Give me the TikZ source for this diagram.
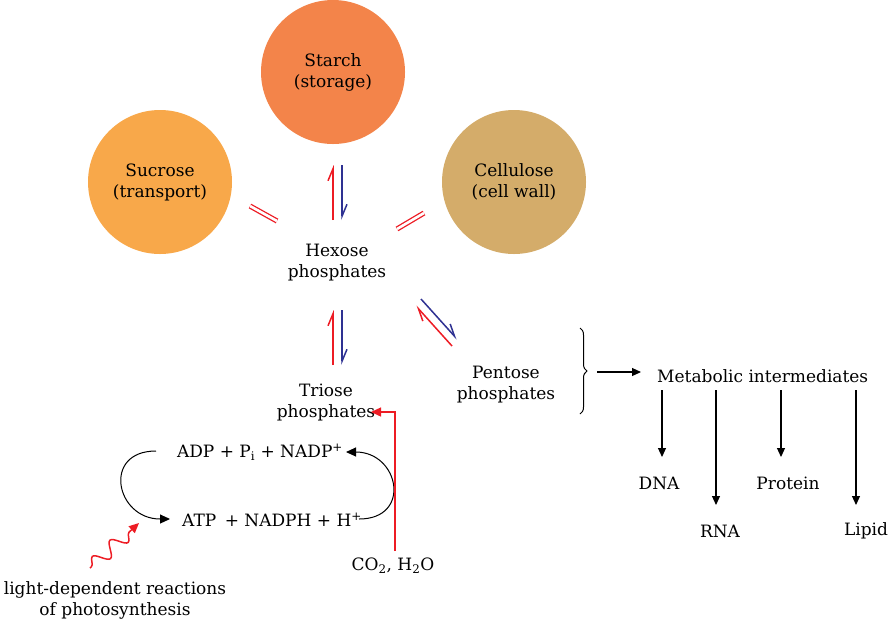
\documentclass[tikz,border=0pt]{standalone}
\usepackage{fontspec}
\setmainfont{DejaVu Serif}
\usetikzlibrary{arrows.meta,decorations.pathmorphing,decorations.pathreplacing}
\definecolor{cred}{HTML}{ED1C24}
\definecolor{cblue}{HTML}{2E3192}
\definecolor{csuc}{HTML}{F8A84A}
\definecolor{cstarch}{HTML}{F3844A}
\definecolor{ccell}{HTML}{D4AC6A}
\begin{document}
\begin{tikzpicture}[x=1pt,y=-1pt,
  txt/.style={font=\fontsize{17}{21}\selectfont, align=center, inner sep=0pt},
  blob/.style={circle, minimum size=144pt, inner sep=0pt, draw=none, font=\fontsize{17}{21}\selectfont, align=center},
  hred/.style={draw=cred, line width=1.5pt, -{Straight Barb[harpoon,length=12pt,width=10pt,line width=1.5pt]}},
  hblue/.style={draw=cblue, line width=1.5pt, -{Straight Barb[harpoon,length=12pt,width=10pt,line width=1.5pt]}},
  eqline/.style={draw=cred, line width=1.3pt, double=white, double distance=2.6pt},
  blk/.style={draw=black, line width=1.1pt, -{Triangle[length=9pt,width=8pt]}},
  cyc/.style={draw=black, line width=1pt, -{Triangle[length=10pt,width=9pt]}}
]
\useasboundingbox (0,0) rectangle (890,630);

% circles
\node[blob, fill=csuc] (suc) at (160,182) {Sucrose\\(transport)};
\node[blob, fill=cstarch] (sta) at (333,72) {Starch\\(storage)};
\node[blob, fill=ccell] (cel) at (514,182) {Cellulose\\(cell wall)};

% texts
\node[txt] (hex) at (337,263) {Hexose\\phosphates};
\node[txt] (tri) at (326,403) {Triose\\phosphates};
\node[txt] (pen) at (506,385) {Pentose\\phosphates};
\node[txt, anchor=west] (met) at (657,376) {Metabolic intermediates};
\node[txt] (dna) at (659,483) {DNA};
\node[txt] (rna) at (720,531) {RNA};
\node[txt] (pro) at (788,483) {Protein};
\node[txt] (lip) at (866,531) {Lipid};
\node[txt] (adp) at (260,452) {ADP + P\textsubscript{i} + NADP\textsuperscript{+}};
\node[txt] (atp) at (272,520) {ATP\enspace+ NADPH + H\textsuperscript{+}};
\node[txt] (co2) at (393,566) {CO\textsubscript{2}, H\textsubscript{2}O};
\node[txt] (light) at (115,600) {light-dependent reactions\\of photosynthesis};

% coordinates
\coordinate (s1) at (333,220); \coordinate (s2) at (333,165);
\coordinate (s3) at (342,165); \coordinate (s4) at (342,220);
\coordinate (t1) at (333,365); \coordinate (t2) at (333,310);
\coordinate (t3) at (342,310); \coordinate (t4) at (342,365);
\coordinate (p1) at (421,299); \coordinate (p2) at (457,339);
\coordinate (p3) at (452,346); \coordinate (p4) at (416,306);
\coordinate (u1) at (250,206); \coordinate (u2) at (277,221);
\coordinate (c1) at (397,229); \coordinate (c2) at (424,213);
\coordinate (b1) at (580,328); \coordinate (b2) at (580,414);
\coordinate (ba) at (597,372); \coordinate (bb) at (641,372);
\coordinate (d0) at (662,390); \coordinate (d1) at (662,457);
\coordinate (r0) at (716,390); \coordinate (r1) at (716,505);
\coordinate (q0) at (781,390); \coordinate (q1) at (781,457);
\coordinate (l0) at (856,390); \coordinate (l1) at (856,505);
\coordinate (a0) at (156,451); \coordinate (a1) at (170,519);
\coordinate (a2) at (359,519); \coordinate (a3) at (346,452);
\coordinate (k0) at (395,551); \coordinate (k1) at (395,412); \coordinate (k2) at (371,412);
\coordinate (w0) at (90,568); \coordinate (w1) at (139,523);

% harpoons
\draw[hred] (s1) -- (s2);
\draw[hblue] (s3) -- (s4);
\draw[hred] (t1) -- (t2);
\draw[hblue] (t3) -- (t4);
\draw[hblue] (p1) -- (p2);
\draw[hred] (p3) -- (p4);
\draw[eqline] (u1) -- (u2);
\draw[eqline] (c1) -- (c2);

% brace and metabolic arrows
\draw[line width=1pt, decorate, decoration={brace, amplitude=7pt}] (b1) -- (b2);
\draw[blk] (ba) -- (bb);
\draw[blk] (d0) -- (d1);
\draw[blk] (r0) -- (r1);
\draw[blk] (q0) -- (q1);
\draw[blk] (l0) -- (l1);

% cycle
\draw[cyc] (a0) to[out=180,in=180,looseness=2] (a1);
\draw[cyc] (a2) to[out=0,in=0,looseness=2] (a3);

% CO2 line
\draw[draw=cred, line width=1.4pt, -{Triangle[length=10pt,width=9pt]}] (k0) -- (k1) -- (k2);

% wavy
\draw[draw=cred, line width=1.5pt, decorate, decoration={snake, amplitude=7pt, segment length=24pt, pre length=2pt, post length=8pt}, -{Triangle[length=10pt,width=9pt]}] (w0) -- (w1);
\end{tikzpicture}
\end{document}
